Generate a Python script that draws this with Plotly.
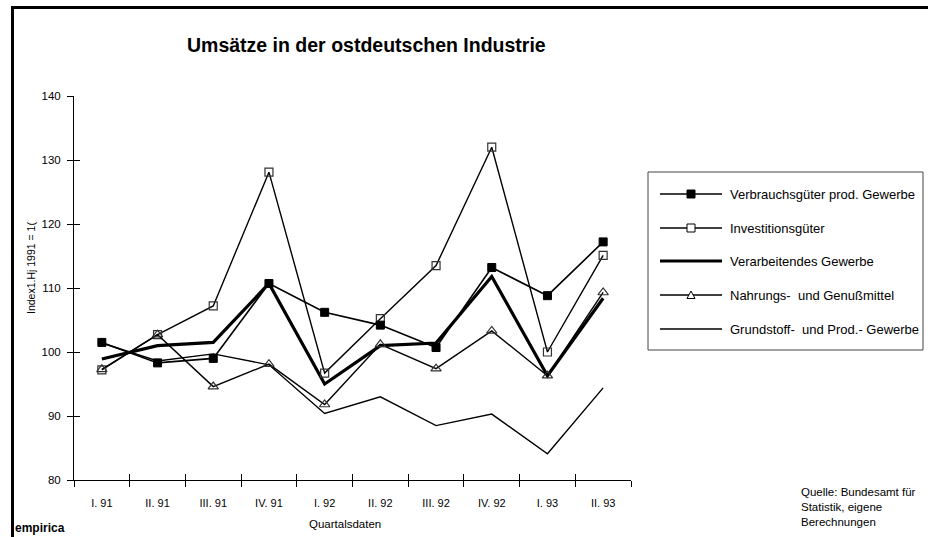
import plotly.graph_objects as go

# Quarterly turnover indices, East German industry (index 1st half 1991 = 100)
quarters = ["I. 91", "II. 91", "III. 91", "IV. 91", "I. 92",
            "II. 92", "III. 92", "IV. 92", "I. 93", "II. 93"]

verbrauchsgueter = [101.5, 98.3, 99.0, 110.7, 106.2, 104.2, 100.7, 113.2, 108.8, 117.2]
investitionsgueter = [97.2, 102.7, 107.2, 128.1, 96.7, 105.2, 113.5, 132.0, 100.0, 115.1]
verarbeitendes = [98.9, 101.0, 101.5, 110.7, 95.0, 101.0, 101.4, 111.8, 96.3, 108.4]
nahrungsmittel = [97.3, 102.7, 94.6, 98.1, 91.8, 101.2, 97.4, 103.3, 96.3, 109.3]
grundstoff = [101.4, 98.6, 99.7, 98.0, 90.4, 93.0, 88.5, 90.3, 84.1, 94.4]

series_names = ["Verbrauchsgüter prod. Gewerbe", "Investitionsgüter",
                "Verarbeitendes Gewerbe", "Nahrungs-  und Genußmittel",
                "Grundstoff-  und Prod.- Gewerbe"]

y_ticks = [80, 90, 100, 110, 120, 130, 140]

FONT = "Arial, 'Liberation Sans', sans-serif"

# plot area geometry in pixels
W, H = 928, 537
L, R, T, B = 74, 631, 96, 480
PW, PH = R - L, B - T


def px(x):
    return (x - L) / PW


def py(y):
    return (B - y) / PH


styles = [
    dict(line=dict(color="black", width=1.6),
         marker=dict(symbol="square", size=8, color="black", line=dict(color="black", width=1))),
    dict(line=dict(color="black", width=1.4),
         marker=dict(symbol="square-open", size=8, color="#333", line=dict(width=1.2))),
    dict(line=dict(color="black", width=3.2), marker=None),
    dict(line=dict(color="black", width=1.4),
         marker=dict(symbol="triangle-up-open", size=9, color="#333", line=dict(width=1.2))),
    dict(line=dict(color="black", width=1.4), marker=None),
]
values = [verbrauchsgueter, investitionsgueter, verarbeitendes, nahrungsmittel, grundstoff]

fig = go.Figure()

# draw the plain lines first so the marker series sit on top
for idx in [4, 2, 1, 3, 0]:
    st = styles[idx]
    mode = "lines+markers" if st["marker"] else "lines"
    kw = dict(x=quarters, y=values[idx], mode=mode, name=series_names[idx],
              line=st["line"], showlegend=False, cliponaxis=False)
    if st["marker"]:
        kw["marker"] = st["marker"]
    fig.add_trace(go.Scatter(**kw))

# helper trace carrying the second (inside-tick) axis pair
fig.add_trace(go.Scatter(x=quarters, y=[None] * len(quarters), xaxis="x2", yaxis="y2",
                         mode="lines", showlegend=False, hoverinfo="skip"))

axis_common = dict(showgrid=False, zeroline=False, linecolor="black", linewidth=1,
                   tickcolor="black", tickwidth=1, ticklen=6)

fig.update_layout(
    width=W, height=H,
    margin=dict(l=L, r=W - R, t=T, b=H - B),
    paper_bgcolor="white", plot_bgcolor="white",
    font=dict(family=FONT, size=11, color="black"),
    xaxis=dict(type="category", categoryarray=quarters, range=[-0.5, 9.5],
               tickson="boundaries", ticks="outside", showline=True,
               ticklabelstandoff=13, tickfont=dict(size=11), **axis_common),
    yaxis=dict(range=[80, 140], tickvals=y_ticks, ticks="outside", showline=True,
               ticklabelstandoff=4, tickfont=dict(size=11.5), **axis_common),
    xaxis2=dict(type="category", categoryarray=quarters, range=[-0.5, 9.5],
                overlaying="x", anchor="y2", tickson="boundaries", ticks="inside",
                showticklabels=False, showline=False, side="bottom", **axis_common),
    yaxis2=dict(range=[80, 140], tickvals=y_ticks, overlaying="y", anchor="x2",
                ticks="inside", showticklabels=False, showline=False, side="left",
                **axis_common),
)

shapes = []
annotations = []

# outer frame (bold border running off the right and bottom edges)
shapes.append(dict(type="rect", xref="paper", yref="paper",
                   x0=px(12.5), x1=px(940), y0=py(7.5), y1=py(550),
                   line=dict(color="black", width=3), layer="above"))

# legend box
shapes.append(dict(type="rect", xref="paper", yref="paper",
                   x0=px(648), x1=px(923), y0=py(350), y1=py(172),
                   line=dict(color="#444", width=1), fillcolor="white", layer="above"))

row_y = [194, 228, 261, 295, 329]
line_x0, line_x1, mark_x, text_x = 660, 722, 691, 728
line_w = [1.6, 1.4, 3.2, 1.4, 1.4]
for i, name in enumerate(series_names):
    yy = row_y[i]
    shapes.append(dict(type="line", xref="paper", yref="paper",
                       x0=px(line_x0), x1=px(line_x1), y0=py(yy), y1=py(yy),
                       line=dict(color="black", width=line_w[i]), layer="above"))
    if i in (0, 1):
        shapes.append(dict(type="rect", xref="paper", yref="paper",
                           x0=px(mark_x - 4), x1=px(mark_x + 4),
                           y0=py(yy + 4), y1=py(yy - 4),
                           fillcolor="black" if i == 0 else "white",
                           line=dict(color="black", width=1), layer="above"))
    if i == 3:
        path = "M {} {} L {} {} L {} {} Z".format(
            px(mark_x - 4), py(yy + 3.5), px(mark_x + 4), py(yy + 3.5),
            px(mark_x), py(yy - 4))
        shapes.append(dict(type="path", xref="paper", yref="paper", path=path,
                           fillcolor="white", line=dict(color="black", width=1),
                           layer="above"))
    annotations.append(dict(text=name, xref="paper", yref="paper",
                            x=px(text_x), y=py(yy), xanchor="left", yanchor="middle",
                            showarrow=False, font=dict(size=13)))

# title
annotations.append(dict(text="<b>Umsätze in der ostdeutschen Industrie</b>",
                        xref="paper", yref="paper", x=px(366), y=py(45),
                        xanchor="center", yanchor="middle", showarrow=False,
                        font=dict(size=19.5)))
# axis titles
annotations.append(dict(text="Index1.Hj 1991 = 1(", xref="paper", yref="paper",
                        x=px(31), y=py(268), xanchor="center", yanchor="middle",
                        textangle=-90, showarrow=False, font=dict(size=10.5)))
annotations.append(dict(text="Quartalsdaten", xref="paper", yref="paper",
                        x=px(345), y=py(524), xanchor="center", yanchor="middle",
                        showarrow=False, font=dict(size=11.5)))
# source note
annotations.append(dict(text="Quelle: Bundesamt für<br>Statistik, eigene<br>Berechnungen",
                        xref="paper", yref="paper", x=px(799), y=py(484),
                        xanchor="left", yanchor="top", align="left",
                        showarrow=False, font=dict(size=11.5)))
# company mark
annotations.append(dict(text="<b>empirica</b>", xref="paper", yref="paper",
                        x=px(13), y=py(528), xanchor="left", yanchor="middle",
                        showarrow=False, font=dict(size=12)))

fig.update_layout(shapes=shapes, annotations=annotations)

fig.write_html("out.html")
